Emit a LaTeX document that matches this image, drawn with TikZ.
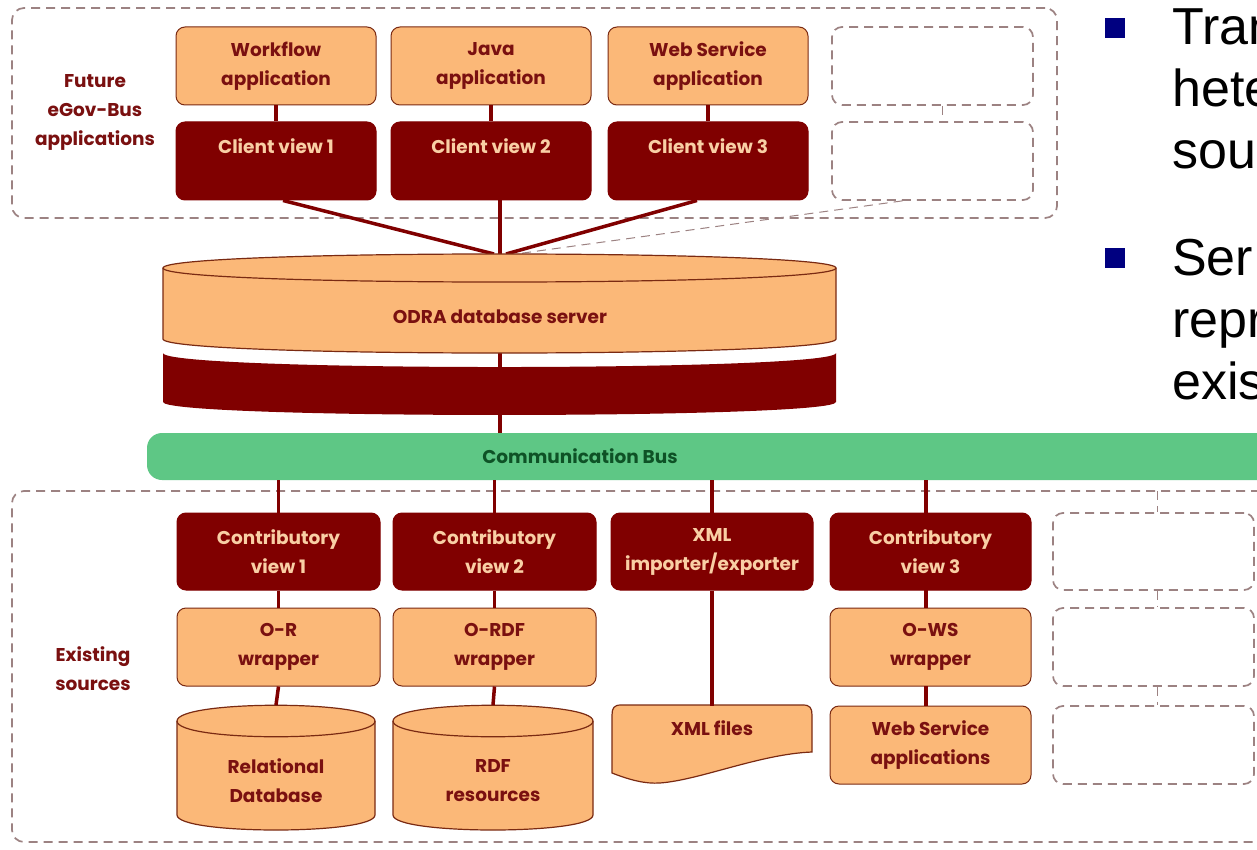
\documentclass[tikz,border=0pt]{standalone}
\usepackage{fontspec}
\setmainfont{Poppins}
\newfontfamily\arialf{Liberation Sans}
\usetikzlibrary{calc}
\definecolor{orng}{HTML}{FBB878}
\definecolor{dred}{HTML}{800000}
\definecolor{brd}{HTML}{7A2A12}
\definecolor{otxt}{HTML}{7A1010}
\definecolor{ptxt}{HTML}{F9CFA5}
\definecolor{dsh}{HTML}{9C8282}
\definecolor{busg}{HTML}{5EC785}
\definecolor{bust}{HTML}{0E5226}
\definecolor{bulnavy}{HTML}{000080}
\begin{document}
\begin{tikzpicture}[x=1pt,y=-1pt,
  lightbox/.style={rectangle, rounded corners=9pt, fill=orng, draw=brd, line width=1pt,
    minimum width=#1, minimum height=78pt, inner sep=0pt},
  darkbox/.style={rectangle, rounded corners=9pt, fill=dred, draw=dred, line width=1pt,
    minimum width=#1, minimum height=78pt, inner sep=0pt},
  dashbox/.style={rectangle, rounded corners=10pt, draw=dsh, line width=1.7pt,
    dash pattern=on 9pt off 6pt, minimum width=#1, minimum height=78pt, inner sep=0pt},
  thindash/.style={draw=dsh, line width=1pt, dash pattern=on 9pt off 6pt},
  conn/.style={draw=dred, line width=3.5pt},
  otext/.style={text=otxt, font=\bfseries\fontsize{18.5}{29}\selectfont, align=center, inner sep=0pt},
  ptext/.style={text=ptxt, font=\bfseries\fontsize{18.5}{29}\selectfont, align=center, inner sep=0pt},
  bultext/.style={font=\arialf\fontsize{52}{62}\selectfont, anchor=base west, inner sep=0pt},
  bulsq/.style={fill=bulnavy, minimum size=20pt, inner sep=0pt}
]
\useasboundingbox (0,0) rectangle (1257,850);
\clip (0,0) rectangle (1257,850);
\fill[white] (0,0) rectangle (1257,850);

% ---------- containers ----------
\node[dashbox=1045pt, minimum height=210pt, rounded corners=12pt] (fut) at (534.5,113) {};
\node[dashbox=1290pt, minimum height=351pt, rounded corners=12pt] (exi) at (657,666.5) {};

\node[otext] (futlbl) at (95,112) {Future\\eGov-Bus\\applications};
\node[otext] (exilbl) at (93,669) {Existing\\sources};

% ---------- top applications ----------
\node[lightbox=200pt] (wf) at (276,66) {};
\node[lightbox=200pt] (java) at (491,66) {};
\node[lightbox=200pt] (wsapp) at (708,66) {};
\node[dashbox=201pt] (dxa) at (932.5,66) {};
\node[otext] at (wf) {Workflow\\application};
\node[otext] at (java) {Java\\application};
\node[otext] at (wsapp) {Web Service\\application};

\node[darkbox=200pt] (cv1) at (276,161) {};
\node[darkbox=200pt] (cv2) at (491,161) {};
\node[darkbox=200pt] (cv3) at (708,161) {};
\node[dashbox=201pt] (dxb) at (932.5,161) {};
\node[ptext] at ($(cv1.north)+(0,25)$) {Client view 1};
\node[ptext] at ($(cv2.north)+(0,25)$) {Client view 2};
\node[ptext] at ($(cv3.north)+(0,25)$) {Client view 3};

\draw[conn] (wf.south) -- (cv1.north);
\draw[conn] (java.south) -- (cv2.north);
\draw[conn] (wsapp.south) -- (cv3.north);
\draw[thindash] ($(dxa.south)+(10,0)$) -- ($(dxb.north)+(10,0)$);

% ---------- ODRA server ----------
\coordinate (o1) at (494,254);
\coordinate (o2) at (500,254);
\coordinate (o3) at (506,254);
\coordinate (o4) at (516,254);
\coordinate (obot) at (500,353);
\draw[conn] ($(cv1.south)+(7,0)$) -- (o1);
\draw[conn] ($(cv2.south)+(9,0)$) -- (o2);
\draw[conn] ($(cv3.south)+(-11,0)$) -- (o3);
\draw[thindash] ($(dxb.south)+(-30,0)$) -- (o4);

\draw[conn] (obot) -- (500,433);
\fill[orng] (163,268) -- (163,339) .. controls (163,357.7) and (836,357.7) .. (836,339)
  -- (836,268) .. controls (836,249.3) and (163,249.3) .. cycle;
\draw[brd, line width=1.2pt] (163,268) -- (163,339) .. controls (163,357.7) and (836,357.7) .. (836,339)
  -- (836,268) .. controls (836,249.3) and (163,249.3) .. cycle;
\draw[brd, line width=1.2pt] (163,268) .. controls (163,286.7) and (836,286.7) .. (836,268);
\fill[dred] (163,353) -- (163,402) .. controls (163,419.3) and (836,419.3) .. (836,402)
  -- (836,353) .. controls (836,371.7) and (163,371.7) .. cycle;
\node[otext] (odra) at (500,317) {ODRA database server};

% ---------- communication bus ----------
\node[rectangle, rounded corners=15pt, fill=busg, minimum width=1200pt, minimum height=47pt, inner sep=0pt] (bus) at (747,456.5) {};
\node[text=bust, font=\bfseries\fontsize{18.5}{22}\selectfont, inner sep=0pt] (buslbl) at (580,456) {Communication Bus};

% ---------- existing sources ----------
\node[darkbox=203pt, minimum height=77pt] (ctb1) at (278.5,551.5) {};
\node[darkbox=203pt, minimum height=77pt] (ctb2) at (494.5,551.5) {};
\node[darkbox=202pt, minimum height=77pt] (xmlie) at (712,551.5) {};
\node[darkbox=201pt, minimum height=77pt] (ctb3) at (930.5,551.5) {};
\node[dashbox=201pt, minimum height=77pt] (dx1) at (1153.5,551.5) {};
\node[ptext] at (ctb1) {Contributory\\view 1};
\node[ptext] at (ctb2) {Contributory\\view 2};
\node[ptext] at (xmlie) {XML\\importer/exporter};
\node[ptext] at (ctb3) {Contributory\\view 3};

\node[lightbox=203pt] (orw) at (278.5,647) {};
\node[lightbox=203pt] (ordf) at (494.5,647) {};
\node[lightbox=201pt] (ows) at (930.5,647) {};
\node[dashbox=201pt] (dx2) at (1153.5,647) {};
\node[otext] at (orw) {O-R\\wrapper};
\node[otext] at (ordf) {O-RDF\\wrapper};
\node[otext] at (ows) {O-WS\\wrapper};

\node[lightbox=201pt] (wsa) at (930.5,745) {};
\node[dashbox=201pt] (dx3) at (1153.5,745) {};
\node[otext] at (wsa) {Web Service\\applications};

% cylinders
\coordinate (reltop) at (276,705);
\coordinate (rdftop) at (493,705);
\coordinate (xmltop) at (712,706);
\fill[orng] (177,721) -- (177,815) .. controls (177,835) and (375,835) .. (375,815)
  -- (375,721) .. controls (375,700) and (177,700) .. cycle;
\draw[brd, line width=1.2pt] (177,721) -- (177,815) .. controls (177,835) and (375,835) .. (375,815)
  -- (375,721) .. controls (375,700) and (177,700) .. cycle;
\draw[brd, line width=1.2pt] (177,721) .. controls (177,742) and (375,742) .. (375,721);
\fill[orng] (393,721) -- (393,815) .. controls (393,835) and (593,835) .. (593,815)
  -- (593,721) .. controls (593,700) and (393,700) .. cycle;
\draw[brd, line width=1.2pt] (393,721) -- (393,815) .. controls (393,835) and (593,835) .. (593,815)
  -- (593,721) .. controls (593,700) and (393,700) .. cycle;
\draw[brd, line width=1.2pt] (393,721) .. controls (393,742) and (593,742) .. (593,721);
\node[otext] (reldb) at (276,781) {Relational\\Database};
\node[otext] (rdfdb) at (493,781) {RDF\\resources};

% XML files document shape
\draw[brd, fill=orng, line width=1.2pt] (612,715) -- (612,773)
  .. controls (630,780) and (645,784) .. (660,783)
  .. controls (700,780) and (760,754) .. (812,752)
  -- (812,715) .. controls (812,708) and (810,705) .. (803,705)
  -- (621,705) .. controls (614,705) and (612,708) .. cycle;
\node[otext] (xmlf) at (712,728) {XML files};

% connectors
\draw[conn] (bus.south -| ctb1.north) -- (ctb1.north);
\draw[conn] (bus.south -| ctb2.north) -- (ctb2.north);
\draw[conn] (bus.south -| xmlie.north) -- (xmlie.north);
\draw[conn] (bus.south -| 926,0) -- (926,513);
\draw[conn] (ctb1.south) -- (orw.north);
\draw[conn] (ctb2.south) -- (ordf.north);
\draw[conn] (926,590) -- (926,608);
\draw[conn] (orw.south) -- (reltop);
\draw[conn] (ordf.south) -- (rdftop);
\draw[conn] (xmlie.south) -- (xmltop);
\draw[conn] (926,686) -- (926,706);
\draw[thindash] (1157,491) -- ($(dx1.north)+(3.5,0)$);
\draw[thindash] ($(dx1.south)+(3.5,0)$) -- ($(dx2.north)+(3.5,0)$);
\draw[thindash] ($(dx2.south)+(3.5,0)$) -- ($(dx3.north)+(3.5,0)$);

% ---------- slide bullets ----------
\node[bulsq] (b1) at (1115,28) {};
\node[bulsq] (b2) at (1115,258) {};
\node[bultext] (t1) at (1172,45) {Tran};
\node[bultext] (t2) at (1172,107) {hete};
\node[bultext] (t3) at (1172,169) {sou};
\node[bultext] (t4) at (1172,275) {Ser};
\node[bultext] (t5) at (1172,337) {repr};
\node[bultext] (t6) at (1172,399) {exis};
\end{tikzpicture}
\end{document}
